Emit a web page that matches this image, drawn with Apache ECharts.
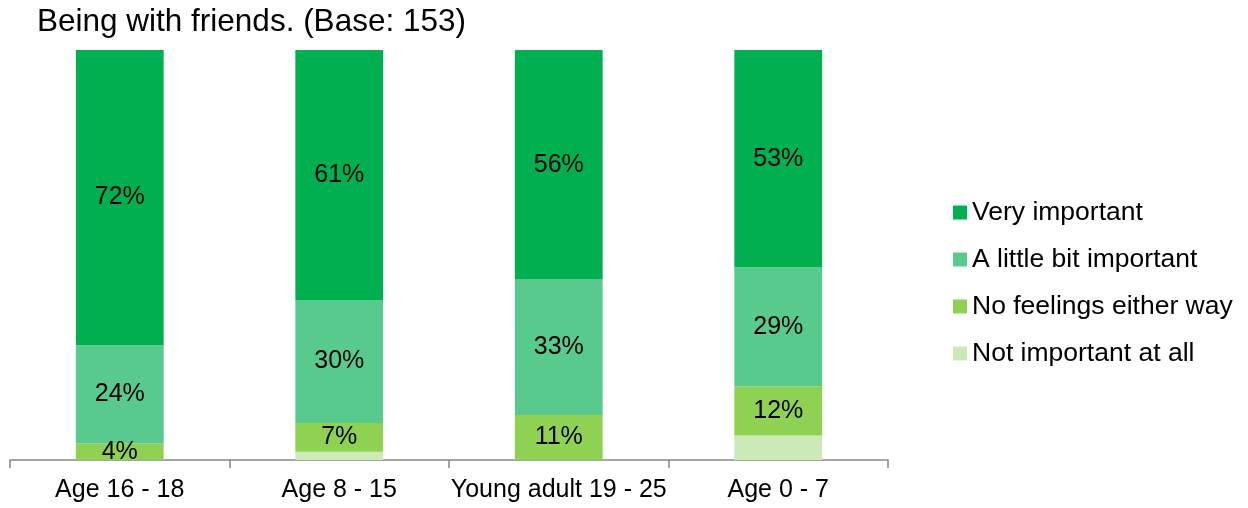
<!DOCTYPE html>
<html>
<head>
<meta charset="utf-8">
<script src="https://cdn.jsdelivr.net/npm/echarts@6/dist/echarts.min.js"></script>
<style>
    html, body { margin: 0; padding: 0; background: #fff; }
    #main { width: 1248px; height: 508px; }
</style>
</head>
<body>
<div id="main"></div>
<script>
// 分类与数据
var categories = ['Age 16 - 18', 'Age 8 - 15', 'Young adult 19 - 25', 'Age 0 - 7'];
var notImportant = [0, 2, 0, 6];
var noFeelings = [4, 7, 11, 12];
var littleBit = [24, 30, 33, 29];
var veryImportant = [72, 61, 56, 53];

var FONT = 'Liberation Sans, Arial, sans-serif';

let makeSeries = (name, data, color, showLabel) => ({
    name: name,
    type: 'bar',
    stack: 'total',
    data: data,
    barWidth: '40%',
    itemStyle: { color: color },
    label: {
        show: showLabel,
        position: 'inside',
        formatter: p => p.value > 0 ? p.value + '%' : '',
        color: '#000',
        fontSize: 25,
        fontFamily: FONT
    }
});

let chart = echarts.init(document.getElementById('main'));
chart.setOption({
    animation: false,
    title: {
        text: 'Being with friends. (Base: 153)',
        left: 32,
        top: 1,
        textStyle: { fontSize: 31.5, fontWeight: 'normal', color: '#000', fontFamily: FONT }
    },
    legend: {
        orient: 'vertical',
        left: 948,
        top: 194,
        itemWidth: 14,
        itemHeight: 14,
        itemGap: 20,
        icon: 'rect',
        data: ['Very important', 'A little bit important', 'No feelings either way', 'Not important at all'],
        textStyle: { fontSize: 26.5, color: '#000', fontFamily: FONT }
    },
    grid: {
        left: 10,
        right: 360,
        top: 50,
        bottom: 48
    },
    xAxis: {
        type: 'category',
        data: categories,
        axisLine: { lineStyle: { color: '#888', width: 1.5 } },
        axisTick: { show: true, length: 8, lineStyle: { color: '#888', width: 1.5 } },
        axisLabel: { interval: 0, fontSize: 25, color: '#000', fontFamily: FONT, margin: 18 }
    },
    yAxis: {
        type: 'value',
        min: 0,
        max: 100,
        show: false,
        splitLine: { show: false }
    },
    series: [
        makeSeries('Not important at all', notImportant, '#CBEAB5', false),
        makeSeries('No feelings either way', noFeelings, '#8ED153', true),
        makeSeries('A little bit important', littleBit, '#58CA8E', true),
        makeSeries('Very important', veryImportant, '#00B050', true)
    ]
});
</script>
</body>
</html>
